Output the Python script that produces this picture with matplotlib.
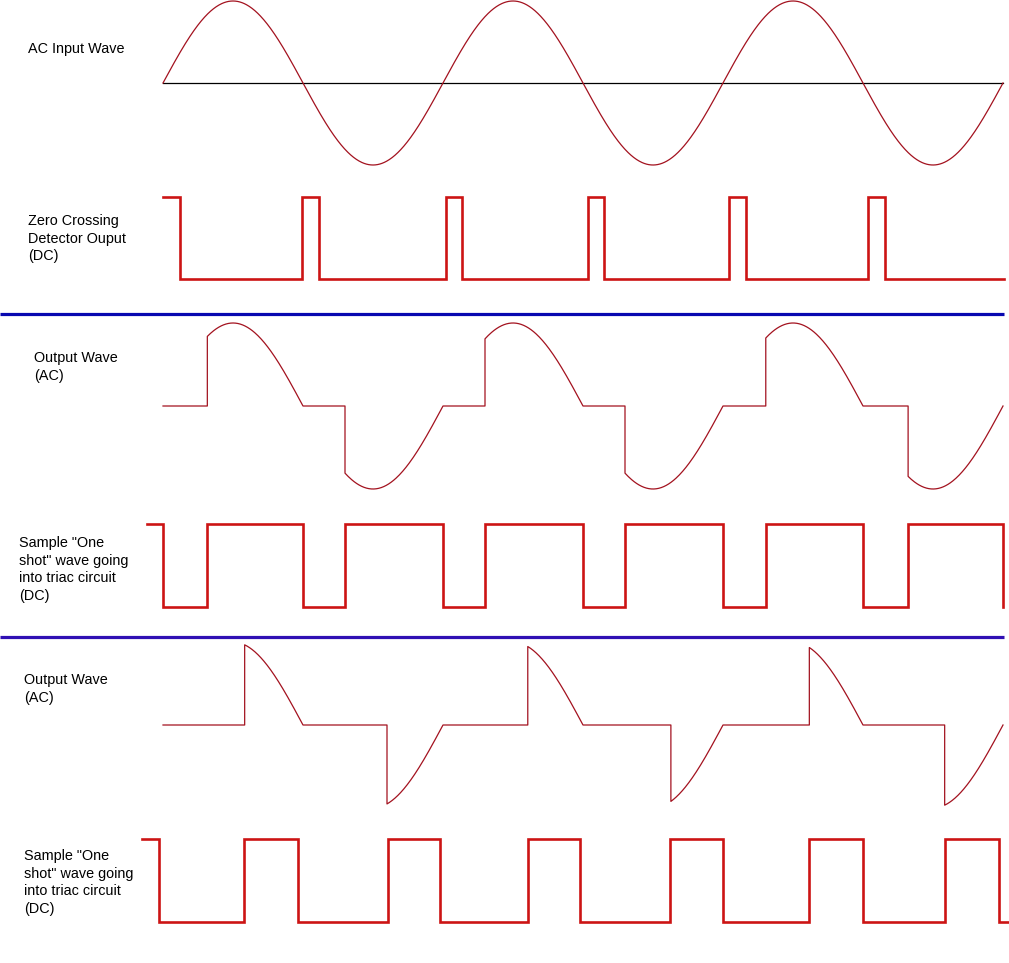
import numpy as np
import matplotlib
matplotlib.use("Agg")
import matplotlib.pyplot as plt

# ---- data (time axis in degrees of the mains cycle, 3 cycles shown) ----
n_cycles = 3
span_deg = 360 * n_cycles

# zero crossing detector: (rise, fall) of each high pulse
zcd_pulses = [(0, 22), (179, 201), (364, 384), (546, 567), (728, 750), (906, 928)]
zcd_end = 1081

# triac firing angle in each half cycle
fire_out1 = [57, 234, 414, 594, 775, 958]
fire_out2 = [105, 288, 469, 653, 831, 1005]

# one shot waves: edge times, level starts high
shot1_edges = [-21, 0, 57, 180, 234, 360, 414, 540, 594, 720, 775, 900, 958, 1080]
shot2_edges = [-27, -5, 104, 174, 289, 356, 469, 536, 652, 720, 831, 900, 1005, 1075, 1088]

labels = ["AC Input Wave",
          "Zero Crossing\nDetector Ouput\n(DC)",
          "Output Wave\n(AC)",
          "Sample \"One\nshot\" wave going\ninto triac circuit\n(DC)",
          "Output Wave\n(AC)",
          "Sample \"One\nshot\" wave going\ninto triac circuit\n(DC)"]

W, H = 1009, 963
SINE_C = '#a3121f'
SQ_C = '#cc1414'

fig = plt.figure(figsize=(W / 100, H / 100), dpi=100)
fig.patch.set_facecolor('white')

# 0 deg sits at x=163px, 1080 deg at x=1003px
px_per_deg = (1003 - 163) / span_deg
xlim = (-163 / px_per_deg, (W - 163) / px_per_deg)


def row_axes(top_px, bot_px, ylim):
    ax = fig.add_axes([0, 1 - bot_px / H, 1, (bot_px - top_px) / H])
    ax.set_xlim(*xlim)
    ax.set_ylim(*ylim)
    ax.axis('off')
    return ax


def step_xy(edges, start_high=True):
    xs, ys = [], []
    lvl = 1 if start_high else 0
    for i, e in enumerate(edges):
        if i > 0:
            xs.append(e)
            ys.append(lvl)
            lvl = 1 - lvl
        xs.append(e)
        ys.append(lvl)
    return xs[:-1], ys[:-1]


def chopped_sine(fires):
    xs, ys = [], []
    for k, f in enumerate(fires):
        hs = k * 180
        t = np.linspace(f, hs + 180, 120)
        xs += [hs, f] + list(t)
        ys += [0, 0] + list(np.sin(np.radians(t)))
    return xs, ys


# AC input
ax = row_axes(1, 165, (-1, 1))
t = np.linspace(0, span_deg, 1500)
ax.plot([0, span_deg], [0, 0], color='black', lw=0.9, clip_on=False)
ax.plot(t, np.sin(np.radians(t)), color=SINE_C, lw=0.9, clip_on=False)

# zero crossing detector
ax = row_axes(197, 279, (0, 1))
zx, zy = [], []
for r, f in zcd_pulses:
    zx += [r, r, f, f]
    zy += [0, 1, 1, 0]
zx[0], zy[0] = zcd_pulses[0][0], 1
zx.append(zcd_end)
zy.append(0)
ax.plot(zx, zy, color=SQ_C, lw=1.9, clip_on=False, solid_joinstyle='miter')

# output wave 1
ax = row_axes(323, 489, (-1, 1))
ox, oy = chopped_sine(fire_out1)
ax.plot(ox, oy, color=SINE_C, lw=0.9, clip_on=False)

# one shot 1
ax = row_axes(524, 607, (0, 1))
sx, sy = step_xy(shot1_edges)
sx.append(shot1_edges[-1])
sy.append(0)
ax.plot(sx, sy, color=SQ_C, lw=1.9, clip_on=False, solid_joinstyle='miter')

# output wave 2
ax = row_axes(642, 808, (-1, 1))
ox, oy = chopped_sine(fire_out2)
ax.plot(ox, oy, color=SINE_C, lw=0.9, clip_on=False)

# one shot 2
ax = row_axes(839, 922, (0, 1))
sx, sy = step_xy(shot2_edges)
ax.plot(sx, sy, color=SQ_C, lw=1.9, clip_on=False, solid_joinstyle='miter')

# labels and separators on a pixel overlay
bg = fig.add_axes([0, 0, 1, 1], zorder=-1)
bg.set_xlim(0, W)
bg.set_ylim(H, 0)
bg.axis('off')
bg.plot([0, 1004], [314.5, 314.5], color='#0808b0', lw=2.3, solid_capstyle='butt')
bg.plot([0, 1004], [637.5, 637.5], color='#3010b4', lw=2.3, solid_capstyle='butt')

label_pos = [(28, 42), (28, 214), (34, 351), (19, 536), (24, 673), (24, 849)]
for (x, y), s in zip(label_pos, labels):
    bg.text(x, y, s, ha='left', va='top', fontsize=10.4, family='Liberation Sans',
            linespacing=1.33, color='black')

fig.savefig('out.png', dpi=100, facecolor='white')
